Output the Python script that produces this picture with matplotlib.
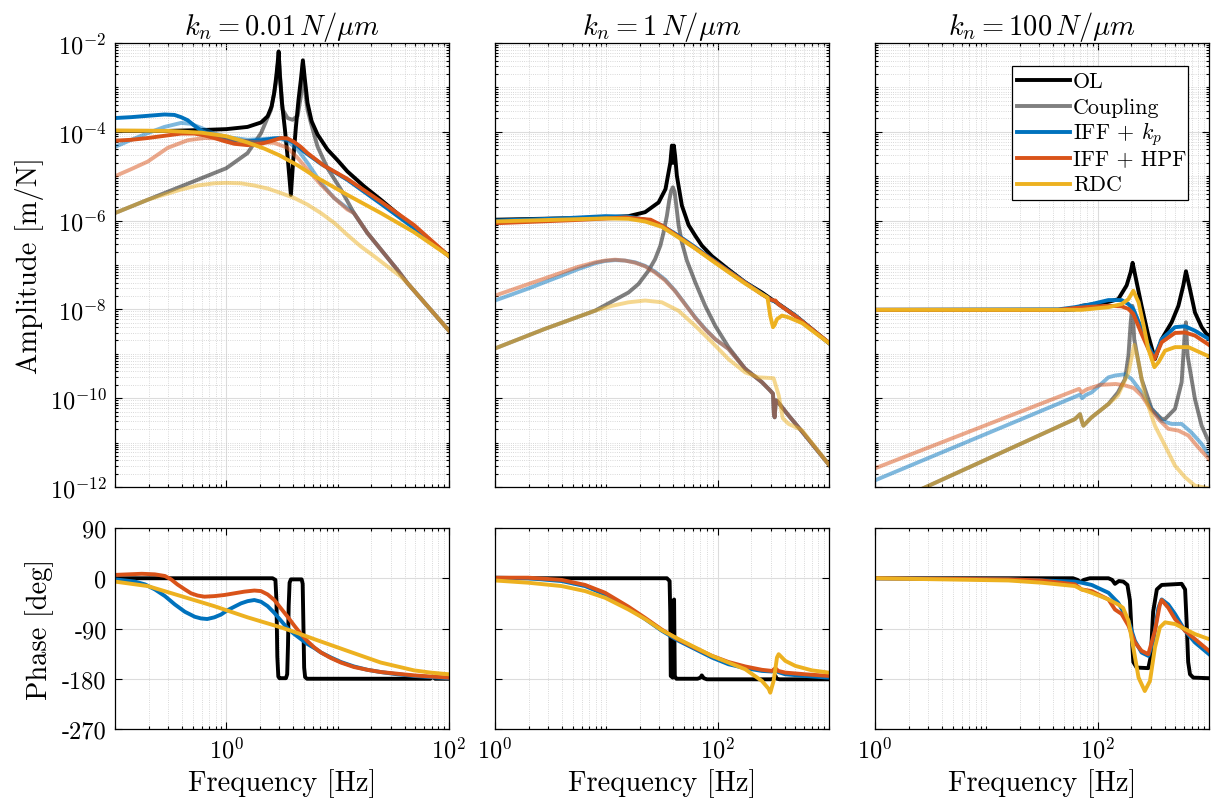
import numpy as np
import matplotlib
matplotlib.use('Agg')
import matplotlib.pyplot as plt
from matplotlib.ticker import FixedLocator, NullFormatter
from matplotlib.patches import Rectangle
from matplotlib.lines import Line2D

plt.rcParams['font.family'] = 'cmr10'
plt.rcParams['mathtext.fontset'] = 'cm'
plt.rcParams['axes.unicode_minus'] = False
plt.rcParams['axes.formatter.use_mathtext'] = True

# amplitudes are given as log10(|G| in m/N), phases in deg, frequencies in Hz

# ---------------- k_n = 0.01 N/um ----------------
f1_ol = [0.1, 0.3, 0.6, 1.0, 1.55, 2.05, 2.35, 2.55, 2.69, 2.81, 2.89, 2.95, 3.03, 3.16, 3.36, 3.57, 3.80,
         3.99, 4.22, 4.45, 4.67, 4.87, 5.08, 5.36, 5.83, 6.59, 8.1, 9.97, 12.2, 17.3, 24.4, 50, 100]
a1_ol = [-3.98, -3.98, -3.96, -3.94, -3.89, -3.79, -3.65, -3.43, -3.13, -2.75, -2.45, -2.19, -2.75, -3.35, -3.95,
         -4.63, -5.42, -4.63, -3.88, -3.28, -2.83, -2.39, -2.83, -3.35, -3.76, -4.06, -4.40, -4.64, -4.89, -5.23,
         -5.53, -6.18, -6.80]
f1_cp = [0.1, 0.197, 0.392, 1.0, 1.55, 2.05, 2.52, 2.79, 2.95, 3.07, 3.2, 3.55, 3.94, 4.37, 4.67, 4.87, 5.08,
         5.36, 5.75, 6.59, 8.1, 10.7, 14.0, 18.5, 24.4, 34.4, 42.4, 100]
a1_cp = [-5.83, -5.53, -5.23, -4.82, -4.48, -4.03, -3.50, -2.90, -2.30, -2.90, -3.50, -3.69, -3.73, -3.64, -3.20,
         -2.45, -3.05, -3.50, -3.80, -4.33, -4.82, -5.30, -5.83, -6.28, -6.65, -7.11, -7.41, -8.48]
f1_kp = [0.1, 0.14, 0.197, 0.278, 0.342, 0.392, 0.45, 0.516, 0.593, 0.68, 0.78, 0.96, 1.18, 1.55, 2.05, 2.69,
         3.09, 3.55, 4.07, 5.01, 7.07, 12.2, 24.4, 48.5, 100]
a1_kp = [-3.69, -3.67, -3.64, -3.61, -3.62, -3.67, -3.74, -3.86, -3.97, -4.04, -4.10, -4.16, -4.19, -4.21, -4.19,
         -4.15, -4.14, -4.18, -4.25, -4.45, -4.72, -5.08, -5.62, -6.17, -6.80]
f1_hpf = [0.1, 0.14, 0.197, 0.278, 0.392, 0.516, 0.635, 0.78, 0.96, 1.18, 1.55, 2.05, 2.52, 3.09, 3.55, 4.07,
          4.67, 5.36, 7.5, 12.2, 24.4, 48.5, 100]
a1_hpf = [-4.20, -4.18, -4.14, -4.09, -4.04, -4.04, -4.08, -4.14, -4.21, -4.27, -4.30, -4.27, -4.21, -4.14, -4.15,
          -4.23, -4.34, -4.48, -4.76, -5.06, -5.57, -6.10, -6.80]
f1_rdc = [0.1, 0.3, 0.6, 1.0, 1.55, 2.2, 3.0, 4.4, 6.2, 12.2, 24.4, 48.5, 100]
a1_rdc = [-3.97, -3.98, -4.02, -4.10, -4.24, -4.38, -4.53, -4.76, -5.00, -5.42, -5.83, -6.26, -6.80]
f1_kp_c = [0.1, 0.14, 0.197, 0.278, 0.392, 0.48, 0.593, 0.78, 1.03, 1.55, 2.19, 2.89, 3.55, 4.37, 5.36, 7.07,
           9.3, 12.2, 14.0, 18.5, 24.4, 34.4, 42.4, 100]
a1_kp_c = [-4.34, -4.18, -4.03, -3.89, -3.80, -3.82, -3.91, -4.04, -4.12, -4.18, -4.16, -4.14, -4.21, -4.40,
           -4.70, -5.15, -5.49, -5.72, -5.83, -6.28, -6.65, -7.11, -7.41, -8.48]
f1_hpf_c = [0.1, 0.14, 0.197, 0.298, 0.45, 0.635, 0.896, 1.26, 1.78, 2.69, 3.55, 4.37, 5.36, 7.07, 9.3, 12.2,
            14.0, 18.5, 24.4, 34.4, 42.4, 100]
a1_hpf_c = [-5.00, -4.84, -4.67, -4.36, -4.19, -4.14, -4.15, -4.19, -4.23, -4.25, -4.36, -4.59, -4.85, -5.19,
            -5.49, -5.75, -5.83, -6.28, -6.65, -7.11, -7.41, -8.48]
f1_rdc_c = [0.1, 0.197, 0.392, 0.55, 0.78, 1.0, 1.35, 1.78, 2.37, 3.09, 4.07, 5.36, 7.07, 9.3, 12.2, 16.1, 21.2,
            27.9, 36.8, 42.4, 100]
a1_rdc_c = [-5.83, -5.53, -5.30, -5.21, -5.16, -5.15, -5.16, -5.21, -5.28, -5.38, -5.49, -5.64, -5.83, -6.05,
            -6.32, -6.58, -6.80, -7.03, -7.26, -7.41, -8.48]

pf1_ol = [0.1, 2.6, 2.76, 2.82, 2.87, 2.93, 3.0, 3.43, 3.52, 3.58, 3.63, 3.70, 3.8, 4.75, 4.85, 4.92, 5.0, 5.1,
          5.3, 68, 71, 75, 100]
p1_ol = [0, 0, -3, -40, -140, -176, -179, -179, -172, -120, -50, -8, -2, -2, -10, -80, -160, -177, -180, -180,
         -176, -180, -180]
pf1_kp = [0.1, 0.123, 0.151, 0.186, 0.228, 0.281, 0.345, 0.424, 0.521, 0.593, 0.674, 0.78, 0.896, 1.03, 1.18,
          1.354, 1.554, 1.784, 2.047, 2.35, 2.698, 3.096, 3.554, 4.08, 4.683, 5.376, 6.17, 7.083, 8.71, 10.69, 14.0,
          18.5, 24.4, 34.4, 48.6, 68.5, 100]
p1_kp = [-2, -4, -6, -11, -20, -32, -47, -60, -69, -72, -73, -70, -65, -57, -51, -45, -41, -39, -42, -50, -62,
         -76, -90, -100, -109, -118, -125, -133, -142, -150, -158, -164, -168, -172, -175, -177, -179]
pf1_hpf = [0.1, 0.132, 0.174, 0.228, 0.281, 0.319, 0.363, 0.424, 0.482, 0.553, 0.635, 0.78, 0.96, 1.18, 1.45,
           1.784, 2.047, 2.35, 2.698, 3.096, 3.554, 4.08, 4.683, 5.376, 6.17, 7.083, 8.71, 10.69, 14.0, 18.5, 24.4,
           34.4, 48.6, 68.5, 100]
p1_hpf = [6, 7, 8, 7, 4, -2, -11, -20, -27, -31, -33, -32, -30, -27, -24, -22, -23, -29, -39, -54, -69, -85,
          -100, -113, -124, -133, -143, -151, -159, -164, -168, -171, -174, -176, -178]
pf1_rdc = [0.1, 0.197, 0.392, 0.78, 1.55, 3.09, 4.07, 6.15, 12.2, 24.4, 48.5, 68.4, 100]
p1_rdc = [-6, -14, -32, -50, -70, -88, -96, -109, -130, -151, -165, -169, -172]

# ---------------- k_n = 1 N/um ----------------
f2_ol = [1, 10, 15.8, 22.3, 29.5, 34, 37.6, 38.8, 39.6, 40.4, 41.5, 43, 47.7, 54.8, 62.9, 72, 88.8, 125, 177, 250,
         308, 330, 345, 499, 1000]
a2_ol = [-5.98, -5.93, -5.90, -5.81, -5.59, -5.29, -4.69, -4.31, -4.70, -4.31, -4.55, -4.99, -5.66, -6.10, -6.34,
         -6.56, -6.80, -7.10, -7.39, -7.62, -7.78, -7.83, -7.86, -8.14, -8.76]
f2_cp = [1, 2.8, 7.9, 15.8, 19.4, 23.9, 27.4, 30.6, 32.7, 35.0, 36.7, 38.2, 39.6, 41.1, 42.5, 44.6, 47.7, 52.9,
         62.9, 77.3, 95.1, 125, 177, 250, 297, 314, 320, 325, 333, 341, 434, 572, 1000]
a2_cp = [-8.88, -8.44, -8.03, -7.62, -7.43, -7.13, -6.87, -6.56, -6.26, -5.89, -5.55, -5.33, -5.25, -5.36, -5.66,
         -6.11, -6.49, -6.90, -7.39, -7.92, -8.37, -8.85, -9.34, -9.64, -9.83, -9.90, -10.35, -10.43, -10.05,
         -10.06, -10.39, -10.75, -11.50]
f2_kp = [1, 3.97, 9.8, 15.8, 22.3, 31.5, 44.5, 62.9, 88.8, 125, 177, 250, 308, 330, 350, 499, 1000]
a2_kp = [-6.00, -5.95, -5.90, -5.91, -5.98, -6.11, -6.34, -6.60, -6.87, -7.13, -7.39, -7.65, -7.80, -7.82, -7.88,
         -8.14, -8.76]
f2_hpf = [1, 5, 15, 25, 31.5, 44.5, 62.9, 88.8, 125, 177, 250, 300, 320, 330, 350, 499, 1000]
a2_hpf = [-6.06, -5.99, -5.93, -5.98, -6.11, -6.36, -6.62, -6.88, -7.14, -7.40, -7.66, -7.78, -7.80, -7.80, -7.88,
          -8.15, -8.75]
f2_rdc = [1, 10, 15.8, 22.3, 31.5, 44.5, 62.9, 88.8, 125, 177, 250, 280, 297, 314, 325, 341, 378, 434, 575, 707,
          1000]
a2_rdc = [-6.02, -5.95, -5.96, -6.02, -6.14, -6.38, -6.63, -6.90, -7.16, -7.42, -7.66, -7.73, -8.15, -8.40, -8.35,
          -8.22, -8.14, -8.18, -8.31, -8.48, -8.76]
f2_c = [1, 1.99, 3.97, 5.62, 7.93, 9.75, 12.0, 14.7, 18.2, 22.3, 27.4, 33.8, 41.5, 51.1, 62.9, 77.3, 95.1, 125,
        177, 250, 297, 314, 320, 325, 333, 341, 434, 572, 1000]
a2_kp_c = [-7.80, -7.53, -7.24, -7.09, -6.96, -6.91, -6.89, -6.90, -6.94, -7.02, -7.15, -7.33, -7.58, -7.88,
           -8.18, -8.44, -8.67, -8.89, -9.34, -9.64, -9.83, -9.90, -10.35, -10.43, -10.05, -10.06, -10.39, -10.75,
           -11.50]
a2_hpf_c = [-7.69, -7.43, -7.17, -7.04, -6.94, -6.90, -6.88, -6.90, -6.95, -7.03, -7.17, -7.35, -7.59, -7.89,
            -8.19, -8.45, -8.67, -8.89, -9.34, -9.64, -9.83, -9.90, -10.35, -10.43, -10.05, -10.06, -10.39, -10.75,
            -11.50]
f2_rdc_c = [1, 2.8, 7.9, 11.2, 15.8, 22.3, 31.5, 44.5, 62.9, 89, 125, 177, 233, 318, 354, 384, 434, 572, 1000]
a2_rdc_c = [-8.88, -8.44, -8.03, -7.92, -7.84, -7.80, -7.84, -8.03, -8.37, -8.74, -9.12, -9.42, -9.53, -9.55, -9.94,
            -10.45, -10.58, -10.72, -11.50]

pf2_ol = [1, 35, 37.0, 37.5, 37.9, 39.5, 40.2, 40.6, 41.2, 42.5, 66, 70, 72, 75, 80, 300, 320, 330, 340, 360, 1000]
p2_ol = [0, 0, -5, -60, -175, -178, -40, -38, -175, -180, -180, -178, -174, -179, -181, -181, -180, -175, -180,
         -181, -181]
pf2_c = [1, 1.99, 3.97, 6.45, 9.75, 15.8, 22.3, 31.5, 44.5, 62.9, 88.8, 125, 177, 250, 308, 330, 350, 405, 612, 1000]
p2_kp = [1, 0, -5, -14, -29, -53, -73, -94, -112, -127, -142, -154, -161, -166, -167, -163, -168, -172, -175, -178]
p2_hpf = [1, 1, -3, -12, -26, -51, -71, -92, -110, -125, -139, -150, -158, -164, -166, -161, -166, -169, -172, -175]
pf2_rdc = [1, 1.99, 3.97, 6.45, 9.75, 15.8, 22.3, 31.5, 44.5, 62.9, 88.8, 125, 177, 250, 287, 297, 318, 341, 353,
           405, 499, 704, 1000]
p2_rdc = [-4, -8, -14, -23, -35, -56, -73, -93, -109, -124, -139, -151, -163, -184, -198, -205, -184, -142, -136,
          -148, -157, -165, -169]

# ---------------- k_n = 100 N/um ----------------
f3_ol = [1, 50, 62.5, 71.8, 94.7, 125, 153, 182, 198, 206, 224, 248, 285, 327, 376, 462, 531, 588, 621, 674, 748,
         859, 1000]
a3_ol = [-8.01, -8.01, -8.00, -7.92, -7.88, -7.83, -7.77, -7.46, -7.16, -6.95, -7.39, -7.92, -8.59, -9.12, -8.67,
         -8.29, -7.92, -7.46, -7.14, -7.54, -8.07, -8.40, -8.63]
f3_cp = [2.7, 62.5, 69.4, 71.8, 74.4, 88.3, 125, 152, 176, 189, 198, 205, 213, 248, 305, 376, 403, 495, 568, 609,
         621, 642, 748, 859, 1000]
a3_cp = [-12.03, -10.47, -10.36, -10.50, -10.62, -10.43, -10.13, -9.87, -9.57, -9.04, -8.29, -7.92, -8.67, -9.57,
         -10.24, -10.47, -10.47, -10.24, -9.64, -8.44, -8.29, -9.04, -10.02, -10.62, -10.99]
f3_c = [1, 44.3, 62.5, 88.3, 125, 164, 189, 209, 248, 285, 323, 376, 495, 609, 748, 1000]
a3_kp = [-8.01, -8.00, -7.95, -7.88, -7.79, -7.79, -7.88, -7.99, -8.44, -8.82, -9.08, -8.67, -8.40, -8.38, -8.48,
         -8.67]
a3_hpf = [-8.01, -8.01, -7.97, -7.94, -7.92, -7.93, -7.99, -8.10, -8.55, -8.89, -9.12, -8.74, -8.53, -8.52, -8.59,
          -8.80]
f3_rdc = [1, 71.8, 125, 164, 189, 209, 233, 259, 285, 323, 352, 403, 495, 654, 1000]
a3_rdc = [-8.01, -8.01, -7.95, -7.88, -7.77, -7.58, -7.84, -8.37, -8.89, -9.30, -9.19, -8.93, -8.85, -8.85, -9.06]
f3_kp_c = [1, 69.4, 72.5, 78, 88.3, 125, 143, 176, 202, 248, 305, 376, 462, 568, 694, 859, 1000]
a3_kp_c = [-11.85, -9.92, -10.00, -9.93, -9.87, -9.53, -9.49, -9.46, -9.57, -9.87, -10.24, -10.51, -10.58, -10.58,
           -10.77, -11.03, -11.29]
f3_hpf_c = [1, 68, 72, 80, 105, 145, 175, 210, 248, 300, 351, 431, 531, 652, 802, 1000]
a3_hpf_c = [-11.58, -9.79, -9.87, -9.80, -9.70, -9.68, -9.71, -9.77, -9.94, -10.25, -10.47, -10.69, -10.73, -10.84,
            -11.11, -11.37]
f3_rdc_c = [2.7, 62.5, 69.4, 71.8, 74.4, 88.3, 125, 152, 189, 213, 233, 265, 327, 403, 495, 609, 748, 1000]
a3_rdc_c = [-12.03, -10.47, -10.36, -10.50, -10.62, -10.43, -10.13, -9.94, -9.42, -8.80, -9.19, -9.94, -10.62,
            -11.07, -11.52, -11.78, -11.97, -12.03]

pf3_ol = [1, 60, 66, 70, 75, 85, 125, 135, 143, 155, 170, 185, 195, 202, 209, 224, 285, 300, 315, 340, 376, 568,
          610, 630, 650, 675, 723, 1000]
p3_ol = [0, 0, -3, -7, -3, 0, 0, -3, -10, -5, -6, -12, -40, -100, -150, -160, -161, -140, -60, -20, -12, -10, -20,
         -80, -150, -172, -178, -179]
pf3_kp = [1, 15.8, 31.4, 62.5, 71.8, 88.3, 125, 153, 189, 216, 248, 285, 316, 351, 376, 431, 495, 609, 748, 1000]
p3_kp = [0, -2, -4, -6, -8, -12, -26, -44, -76, -112, -133, -139, -112, -53, -38, -47, -64, -94, -115, -136]
pf3_hpf = [1, 15.8, 31.4, 62.5, 71.8, 88.3, 125, 143, 164, 189, 216, 248, 285, 327, 362, 376, 431, 495, 609, 748,
           1000]
p3_hpf = [0, -2, -4, -11, -20, -23, -38, -56, -64, -85, -115, -130, -136, -94, -47, -39, -53, -73, -94, -109, -130]
pf3_rdc = [1, 15.8, 31.4, 62.5, 71.8, 88.3, 125, 153, 169, 189, 209, 233, 265, 295, 327, 362, 403, 495, 609, 748,
           1000]
p3_rdc = [0, -4, -8, -14, -20, -26, -38, -47, -53, -76, -124, -178, -202, -184, -124, -88, -79, -82, -91, -100, -109]

titles = [r'$k_n = 0.01\,N/\mu m$', r'$k_n = 1\,N/\mu m$', r'$k_n = 100\,N/\mu m$']
xlims = [(0.1, 100), (1, 1000), (1, 1000)]
labels = ['OL', 'Coupling', r'IFF + $k_p$', 'IFF + HPF', 'RDC']

c_ol = 'black'
c_kp = '#0072BD'
c_hpf = '#D95319'
c_rdc = '#EDB120'
lw = 2.8

panels = [
    dict(amp=[(f1_ol, a1_ol), (f1_cp, a1_cp), (f1_kp, a1_kp), (f1_hpf, a1_hpf), (f1_rdc, a1_rdc)],
         cpl=[(f1_kp_c, a1_kp_c), (f1_hpf_c, a1_hpf_c), (f1_rdc_c, a1_rdc_c)],
         ph=[(pf1_ol, p1_ol), (pf1_kp, p1_kp), (pf1_hpf, p1_hpf), (pf1_rdc, p1_rdc)]),
    dict(amp=[(f2_ol, a2_ol), (f2_cp, a2_cp), (f2_kp, a2_kp), (f2_hpf, a2_hpf), (f2_rdc, a2_rdc)],
         cpl=[(f2_c, a2_kp_c), (f2_c, a2_hpf_c), (f2_rdc_c, a2_rdc_c)],
         ph=[(pf2_ol, p2_ol), (pf2_c, p2_kp), (pf2_c, p2_hpf), (pf2_rdc, p2_rdc)]),
    dict(amp=[(f3_ol, a3_ol), (f3_cp, a3_cp), (f3_c, a3_kp), (f3_c, a3_hpf), (f3_rdc, a3_rdc)],
         cpl=[(f3_kp_c, a3_kp_c), (f3_hpf_c, a3_hpf_c), (f3_rdc_c, a3_rdc_c)],
         ph=[(pf3_ol, p3_ol), (pf3_kp, p3_kp), (pf3_hpf, p3_hpf), (pf3_rdc, p3_rdc)]),
]

W, H = 1212.0, 803.0
fig = plt.figure(figsize=(W / 100, H / 100), dpi=100)
lefts = [115, 495, 875]
wid = 334

minor_log = [k * 10.0 ** e for e in range(-13, 4) for k in range(1, 10)]


def style(ax):
    ax.set_axisbelow(True)
    ax.tick_params(which='both', direction='in', top=True, right=True, width=0.8, labelsize=17.5, pad=6)
    ax.tick_params(which='major', length=5)
    ax.tick_params(which='minor', length=2.5)
    for s in ax.spines.values():
        s.set_linewidth(0.9)
    ax.grid(True, which='major', color='#dcdcdc', lw=0.8, ls='-')
    ax.xaxis.grid(True, which='minor', color='#cccccc', lw=0.6, ls=':')


for i, p in enumerate(panels):
    axa = fig.add_axes([lefts[i] / W, 1 - 488 / H, wid / W, 444 / H])
    axp = fig.add_axes([lefts[i] / W, 1 - 730 / H, wid / W, 201 / H])

    # amplitude
    cols = [c_ol, c_ol, c_kp, c_hpf, c_rdc]
    alph = [1, 0.5, 1, 1, 1]
    ccols = [c_kp, c_hpf, c_rdc]
    for j in range(5):
        f, a = p['amp'][j]
        axa.plot(f, 10.0 ** np.array(a), color=cols[j], alpha=alph[j], lw=lw, solid_joinstyle='round')
        if j >= 2:
            fc, ac = p['cpl'][j - 2]
            axa.plot(fc, 10.0 ** np.array(ac), color=ccols[j - 2], alpha=0.5, lw=lw, solid_joinstyle='round')
    axa.set_xscale('log')
    axa.set_yscale('log')
    axa.set_xlim(*xlims[i])
    axa.set_ylim(1e-12, 1e-2)
    axa.xaxis.set_major_locator(FixedLocator([1, 100]))
    axa.xaxis.set_minor_locator(FixedLocator(minor_log))
    axa.xaxis.set_minor_formatter(NullFormatter())
    axa.set_xticklabels([])
    axa.yaxis.set_major_locator(FixedLocator([1e-12, 1e-10, 1e-8, 1e-6, 1e-4, 1e-2]))
    axa.yaxis.set_minor_locator(FixedLocator(minor_log))
    axa.yaxis.set_minor_formatter(NullFormatter())
    style(axa)
    axa.yaxis.grid(True, which='minor', color='#cccccc', lw=0.6, ls=':')
    if i == 0:
        axa.set_yticklabels([r'$10^{-12}$', r'$10^{-10}$', r'$10^{-8}$', r'$10^{-6}$', r'$10^{-4}$', r'$10^{-2}$'])
        axa.set_ylabel('Amplitude [m/N]', fontsize=20.5, labelpad=4)
    else:
        axa.set_yticklabels([])
    axa.set_title(titles[i], fontsize=20.5, pad=6)
    if i == 2:
        # legend box drawn in axes coordinates, rows evenly spaced
        axa.add_patch(Rectangle((0.410, 0.646), 0.527, 0.302, transform=axa.transAxes, facecolor='white',
                                edgecolor='black', lw=0.9, zorder=5))
        lcols = [c_ol, (0.5, 0.5, 0.5), c_kp, c_hpf, c_rdc]
        for k in range(5):
            yl = 0.9167 - k * 0.0587
            axa.add_line(Line2D([0.425, 0.584], [yl, yl], transform=axa.transAxes, color=lcols[k], lw=lw,
                                zorder=6))
            axa.text(0.593, 0.901 - k * 0.058, labels[k], transform=axa.transAxes, fontsize=15.8,
                     va='baseline', ha='left', zorder=6)

    # phase
    pcols = [c_ol, c_kp, c_hpf, c_rdc]
    for j in range(4):
        f, ph = p['ph'][j]
        axp.plot(f, ph, color=pcols[j], lw=lw, solid_joinstyle='round')
    axp.set_xscale('log')
    axp.set_xlim(*xlims[i])
    axp.set_ylim(-270, 90)
    axp.xaxis.set_major_locator(FixedLocator([1, 100]))
    axp.xaxis.set_minor_locator(FixedLocator(minor_log))
    axp.xaxis.set_minor_formatter(NullFormatter())
    axp.set_xticklabels([r'$10^{0}$', r'$10^{2}$'])
    axp.set_yticks([-270, -180, -90, 0, 90])
    style(axp)
    if i == 0:
        axp.set_yticklabels(['-270', '-180', '-90', '0', '90'])
        axp.set_ylabel('Phase [deg]', fontsize=20.5, labelpad=6)
    else:
        axp.set_yticklabels([])
    axp.set_xlabel('Frequency [Hz]', fontsize=20.5, labelpad=4)

fig.savefig('out.png', dpi=100)
